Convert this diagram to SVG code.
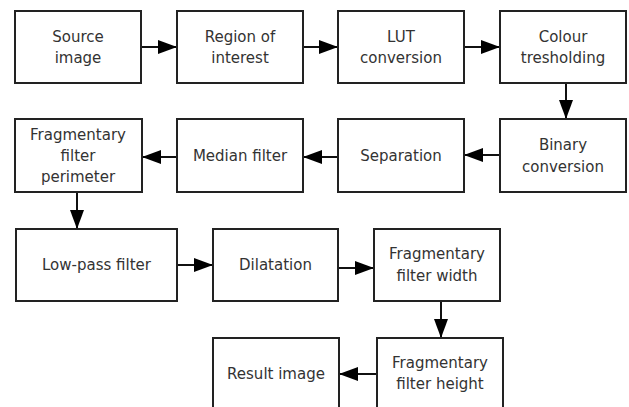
<svg xmlns="http://www.w3.org/2000/svg" width="629" height="407" viewBox="0 0 629 407">
<style>
.box{fill:#fff;stroke:#222;stroke-width:2}
.t{font-family:"DejaVu Sans",sans-serif;font-size:15px;fill:#333;text-anchor:middle}
.c{stroke:#111;stroke-width:2;fill:none;marker-end:url(#ah)}
</style>
<defs>
<marker id="ah" markerUnits="userSpaceOnUse" markerWidth="19" markerHeight="14" refX="19" refY="7" orient="auto">
<path d="M0,0 L19,7 L0,14 z" fill="#000"/>
</marker>
</defs>
<rect width="629" height="407" fill="#fff"/>
<g id="connectors">
<line class="c" x1="141" y1="47" x2="177" y2="47"/>
<line class="c" x1="303" y1="47" x2="338" y2="47"/>
<line class="c" x1="464" y1="47" x2="500" y2="47"/>
<line class="c" x1="566" y1="83" x2="566" y2="119"/>
<line class="c" x1="500" y1="155" x2="464" y2="155"/>
<line class="c" x1="338" y1="157" x2="303" y2="157"/>
<line class="c" x1="177" y1="157" x2="142" y2="157"/>
<line class="c" x1="77" y1="192" x2="77" y2="229"/>
<line class="c" x1="177" y1="265" x2="213" y2="265"/>
<line class="c" x1="338" y1="268" x2="374" y2="268"/>
<line class="c" x1="441" y1="301" x2="441" y2="338"/>
<line class="c" x1="377" y1="374" x2="339" y2="374"/>
</g>
<g id="n1"><rect class="box" x="15" y="11" width="126" height="72"/><text class="t" x="78" y="42">Source</text><text class="t" x="78" y="63">image</text></g>
<g id="n2"><rect class="box" x="177" y="11" width="126" height="72"/><text class="t" x="240" y="42">Region of</text><text class="t" x="240" y="63">interest</text></g>
<g id="n3"><rect class="box" x="338" y="11" width="126" height="72"/><text class="t" x="401" y="42">LUT</text><text class="t" x="401" y="63">conversion</text></g>
<g id="n4"><rect class="box" x="500" y="11" width="126" height="72"/><text class="t" x="563" y="42">Colour</text><text class="t" x="563" y="63">tresholding</text></g>
<g id="n5"><rect class="box" x="500" y="119" width="126" height="73"/><text class="t" x="563" y="150">Binary</text><text class="t" x="563" y="172">conversion</text></g>
<g id="n6"><rect class="box" x="338" y="119" width="126" height="73"/><text class="t" x="401" y="161">Separation</text></g>
<g id="n7"><rect class="box" x="177" y="119" width="126" height="73"/><text class="t" x="240" y="161">Median filter</text></g>
<g id="n8"><rect class="box" x="15" y="119" width="127" height="73"/><text class="t" x="78" y="139.5">Fragmentary</text><text class="t" x="78" y="161">filter</text><text class="t" x="78" y="182">perimeter</text></g>
<g id="n9"><rect class="box" x="16" y="229" width="161" height="72"/><text class="t" x="96.5" y="270">Low-pass filter</text></g>
<g id="n10"><rect class="box" x="213" y="229" width="125" height="72"/><text class="t" x="275.5" y="270">Dilatation</text></g>
<g id="n11"><rect class="box" x="374" y="229" width="126" height="72"/><text class="t" x="437" y="259">Fragmentary</text><text class="t" x="437" y="281">filter width</text></g>
<g id="n12"><rect class="box" x="377" y="338" width="126" height="80"/><text class="t" x="440" y="368">Fragmentary</text><text class="t" x="440" y="389">filter height</text></g>
<g id="n13"><rect class="box" x="213" y="338" width="126" height="80"/><text class="t" x="276" y="379">Result image</text></g>
</svg>
